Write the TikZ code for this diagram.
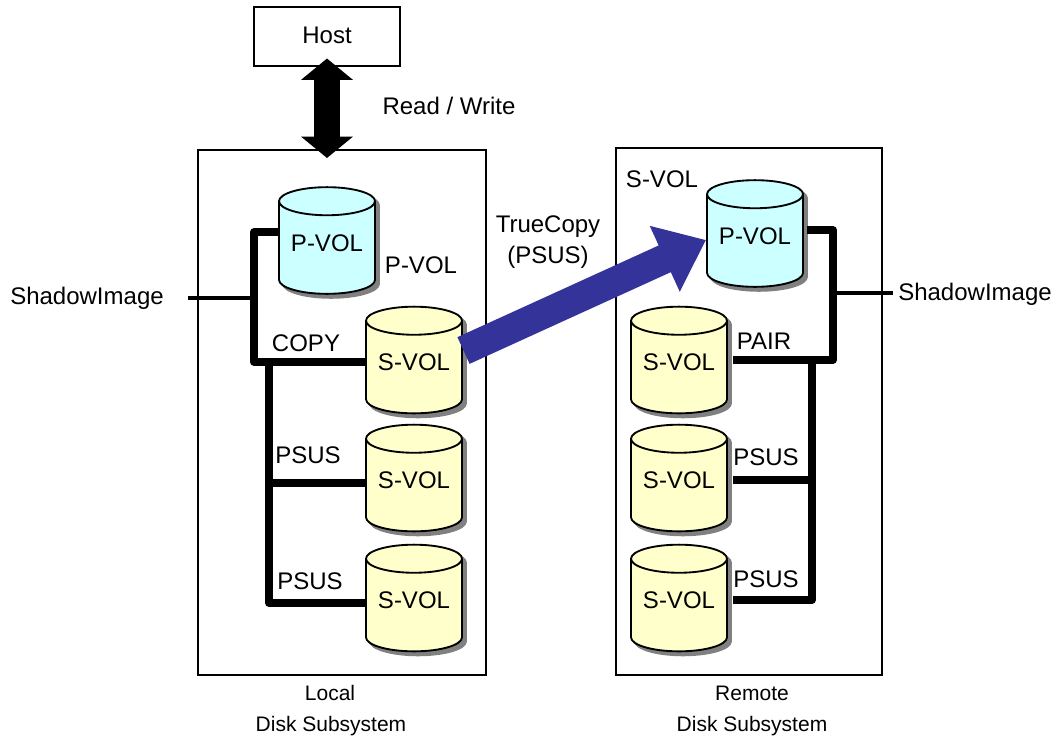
\documentclass[tikz,border=0pt]{standalone}
\usepackage{fontspec}
\setmainfont{Liberation Sans}
\usetikzlibrary{shapes.geometric,arrows.meta,calc}
\definecolor{pcol}{HTML}{CCFFFF}
\definecolor{scol}{HTML}{FFFFCC}
\definecolor{tcblue}{HTML}{333399}
\newcommand\voltext[1]{\raisebox{3pt}[0.72em][0.1em]{#1}}
\tikzset{
  frame/.style={draw=black,line width=1.1pt,fill=white,inner sep=0pt,outer sep=0pt},
  txt/.style={inner sep=0pt,outer sep=0pt,font=\fontsize{18}{20}\selectfont},
  small/.style={inner sep=0pt,outer sep=0pt,font=\fontsize{15.75}{18}\selectfont},
  volbase/.style={shape=cylinder,shape border rotate=90,aspect=0.39,anchor=shape center,
    minimum width=72pt,minimum height=80pt,inner sep=0pt,outer sep=0pt,line width=1.4pt,
    font=\fontsize{18}{20}\selectfont},
  volshadow/.style={volbase,fill=black!50,draw=black!50},
  pvol/.style={volbase,draw=black,fill=pcol},
  svol/.style={volbase,draw=black,fill=scol},
  bus/.style={line width=5.6pt,line join=round,line cap=butt},
  thin/.style={line width=2.6pt},
  copyarrow/.style={draw=tcblue,line width=22pt,-{Triangle[length=34pt,width=52pt,fill=tcblue,color=tcblue]}},
  hostarrow/.style={black,line width=19pt,{Triangle[length=16pt,width=38pt]}-{Triangle[length=16pt,width=38pt]},shorten <=-5.5pt,shorten >=-6pt}
}
\begin{document}
\begin{tikzpicture}[x=0.75pt,y=-0.75pt]
\useasboundingbox (0,0) rectangle (1056,740);
% frames
\node[frame,minimum width=109.5pt,minimum height=44pt] (host) at (327,36.5) {};
\node[txt] (hostt) at (327,35) {Host};
\node[frame,minimum width=216pt,minimum height=393.75pt] (local) at (342,412.5) {};
\node[frame,minimum width=199.5pt,minimum height=395.25pt] (remote) at (749,411.5) {};
% routing points
\coordinate (lt) at (254,232);
\coordinate (lb) at (254,362);
\coordinate (lv) at (269,362);
\coordinate (l2) at (269,483);
\coordinate (l3) at (269,603);
\coordinate (rt) at (833,230);
\coordinate (rb) at (833,360);
\coordinate (rv) at (812,360);
\coordinate (r2) at (812,480);
\coordinate (r3) at (812,600);
\coordinate (lsi) at (188,298);
\coordinate (rsi) at (893,293);
\coordinate (lj) at (254,298);
\coordinate (rj) at (833,293);
% volumes
\foreach \n/\x/\y in {a/327/240.5,b/414/360,c/414/478,d/414/598,e/755/233.5,f/679/360,g/679/478,h/679/598}
  \node[volshadow] (sh\n) at (\x+4,\y+4) {\phantom{\voltext{S-VOL}}};
\node[pvol] (lp) at (327,240.5) {\voltext{P-VOL}};
\node[svol] (ls1) at (414,360) {\voltext{S-VOL}};
\node[svol] (ls2) at (414,478) {\voltext{S-VOL}};
\node[svol] (ls3) at (414,598) {\voltext{S-VOL}};
\node[pvol] (rp) at (755,233.5) {\voltext{P-VOL}};
\node[svol] (rs1) at (679,360) {\voltext{S-VOL}};
\node[svol] (rs2) at (679,478) {\voltext{S-VOL}};
\node[svol] (rs3) at (679,598) {\voltext{S-VOL}};
% buses
\draw[bus] (lp.west |- lt) -- (lt) -- (lb) -- (ls1.west |- lb);
\draw[bus] (lv) -- (l3) -- (ls3.west |- l3);
\draw[bus] (l2) -- (ls2.west |- l2);
\draw[bus] ([xshift=3pt]rp.east |- rt) -- (rt) -- (rb) -- ([xshift=4.5pt]rs1.east |- rb);
\draw[bus] (rv) -- (r3) -- ([xshift=4.5pt]rs3.east |- r3);
\draw[bus] (r2) -- ([xshift=4.5pt]rs2.east |- r2);
\draw[thin] (lsi) -- (lj);
\draw[thin] (rj) -- (rsi);
% arrows
\coordinate (tail) at (463.5,350.5);
\coordinate (tip) at (706,240);
\draw[copyarrow] (tail) -- (tip);
\draw[hostarrow] (host.south) -- (host.south |- local.north);
% labels
\node[txt] (rw) at (449,106) {Read / Write};
\node[txt] (tc1) at (548,227) {TrueCopy};
\node[txt] (tc2) at (548,257) {(PSUS)};
\node[txt] (rslab) at (662,179) {S-VOL};
\node[txt] (lplab) at (421,265) {P-VOL};
\node[txt] (c) at (306,343) {COPY};
\node[txt] (p1) at (308,455) {PSUS};
\node[txt] (p2) at (310,581) {PSUS};
\node[txt] (pr) at (764,341) {PAIR};
\node[txt] (p3) at (766,457) {PSUS};
\node[txt] (p4) at (766,579) {PSUS};
\node[txt] (si1) at (87,298) {ShadowImage};
\node[txt] (si2) at (975,294) {ShadowImage};
\node[small] (ll1) at (330,693) {Local};
\node[small] (ll2) at (331,726) {Disk Subsystem};
\node[small] (rl1) at (752,693) {Remote};
\node[small] (rl2) at (752,726) {Disk Subsystem};
\end{tikzpicture}
\end{document}
